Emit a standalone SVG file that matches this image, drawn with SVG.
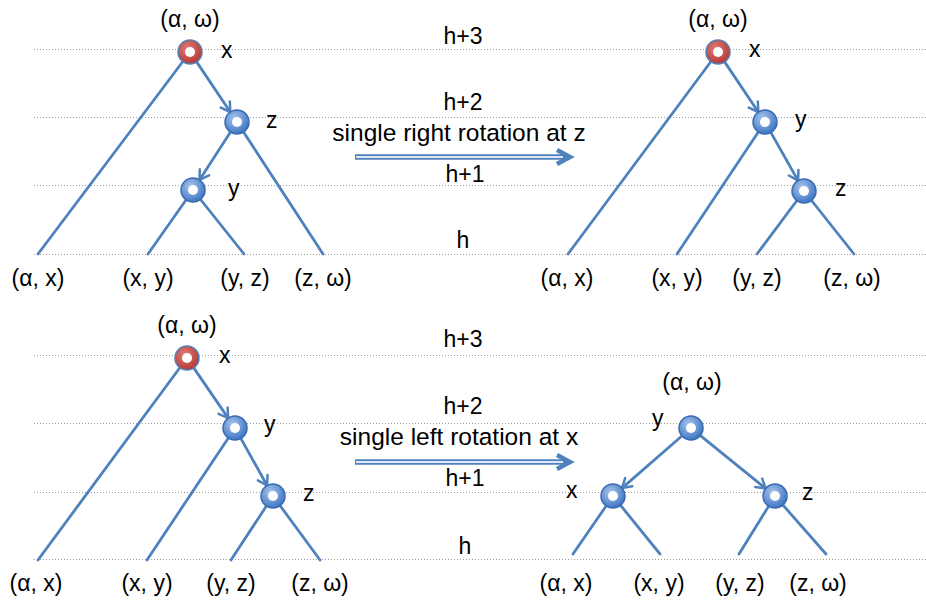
<svg xmlns="http://www.w3.org/2000/svg" width="926" height="601" viewBox="0 0 926 601">
<defs>
<radialGradient id="gb" cx="40%" cy="35%" r="65%">
<stop offset="0" stop-color="#A9C6EC"/>
<stop offset="1" stop-color="#3F76C4"/>
</radialGradient>
<radialGradient id="gr" cx="40%" cy="35%" r="65%">
<stop offset="0" stop-color="#E07A77"/>
<stop offset="1" stop-color="#B53A36"/>
</radialGradient>
<marker id="ah" markerUnits="userSpaceOnUse" markerWidth="14" markerHeight="14" refX="11" refY="7" orient="auto" viewBox="0 0 14 14">
<path d="M2,1.5 L11,7 L2,12.5" fill="none" stroke="#4F81BD" stroke-width="2.5" stroke-linejoin="round" stroke-linecap="round"/>
</marker>
</defs>
<style>
.t{font-family:"Liberation Sans",Arial,sans-serif;font-size:23px;fill:#000}
.m{text-anchor:middle}
.r{font-size:24.5px}
.grid line{stroke:#9a9a9a;stroke-width:1;stroke-dasharray:1,2}
.e line{stroke:#4F81BD;stroke-width:2.8;stroke-linecap:round}
.e line.a{marker-end:url(#ah)}
.nb{fill:url(#gb);stroke:#3A6BB0;stroke-width:1.5}
.nr{fill:url(#gr);stroke:#4F81BD;stroke-width:1.5}
.hole{fill:#fff}
.ba{stroke:#4F81BD;stroke-width:5.5;fill:none}
.bi{stroke:#DCE6F4;stroke-width:1.8;fill:none}
.bh{fill:none;stroke:#4F81BD;stroke-width:4.5;stroke-linejoin:miter}
</style>
<rect width="926" height="601" fill="#fff"/>
<g class="grid">
<line x1="34" y1="49.5" x2="926" y2="49.5"/>
<line x1="34" y1="117.5" x2="926" y2="117.5"/>
<line x1="34" y1="185.5" x2="926" y2="185.5"/>
<line x1="34" y1="254.5" x2="926" y2="254.5"/>
<line x1="34" y1="355.5" x2="926" y2="355.5"/>
<line x1="34" y1="423.5" x2="926" y2="423.5"/>
<line x1="34" y1="492.5" x2="926" y2="492.5"/>
<line x1="34" y1="559.5" x2="926" y2="559.5"/>
</g>
<g id="levels">
<text class="t m" x="463" y="44">h+3</text>
<text class="t m" x="463" y="110">h+2</text>
<text class="t m r" x="459" y="141">single right rotation at z</text>
<text class="t m" x="465" y="182">h+1</text>
<text class="t m" x="463" y="248">h</text>
<text class="t m" x="463" y="347">h+3</text>
<text class="t m" x="463" y="414">h+2</text>
<text class="t m r" x="459" y="445">single left rotation at x</text>
<text class="t m" x="465" y="486">h+1</text>
<text class="t m" x="465" y="554">h</text>
</g>
<g id="rotation-arrows">
<line class="ba" x1="355" y1="157" x2="566" y2="157"/>
<line class="bi" x1="356" y1="157" x2="563" y2="157"/>
<path class="bh" d="M557,150 L570,157 L557,164"/>
<line class="ba" x1="355" y1="462" x2="566" y2="462"/>
<line class="bi" x1="356" y1="462" x2="563" y2="462"/>
<path class="bh" d="M557,455 L570,462 L557,469"/>
</g>
<g id="connectors" class="e">
<line x1="190" y1="52" x2="38" y2="254"/>
<line class="a" x1="196.1" y1="61.1" x2="230.3" y2="112"/>
<line class="a" x1="231" y1="131.2" x2="199.5" y2="179.9"/>
<line x1="237" y1="122" x2="323" y2="254"/>
<line x1="193" y1="190" x2="148" y2="254"/>
<line x1="193" y1="190" x2="244" y2="254"/>
<line x1="718" y1="52" x2="568" y2="254"/>
<line class="a" x1="724.1" y1="61.1" x2="758.3" y2="112"/>
<line x1="765" y1="122" x2="677" y2="254"/>
<line class="a" x1="770.4" y1="131.6" x2="798.1" y2="180.6"/>
<line x1="804" y1="191" x2="757" y2="254"/>
<line x1="804" y1="191" x2="854" y2="254"/>
<line x1="187" y1="358" x2="38" y2="560"/>
<line class="a" x1="193.2" y1="367.1" x2="228.2" y2="418.1"/>
<line x1="235" y1="428" x2="147" y2="560"/>
<line class="a" x1="240.4" y1="437.6" x2="267.1" y2="485.5"/>
<line x1="273" y1="496" x2="231" y2="560"/>
<line x1="273" y1="496" x2="320" y2="560"/>
<line class="a" x1="682.7" y1="435.2" x2="622" y2="488.1"/>
<line class="a" x1="699.5" y1="434.9" x2="765.7" y2="488.5"/>
<line x1="613" y1="496" x2="573" y2="554"/>
<line x1="613" y1="496" x2="660" y2="554"/>
<line x1="775" y1="496" x2="739" y2="554"/>
<line x1="775" y1="496" x2="826" y2="554"/>
</g>
<g id="tl-x"><circle class="nr" cx="190" cy="52" r="12"/><circle class="hole" cx="190" cy="52" r="5"/><text class="t m" x="190" y="27">(α, ω)</text><text class="t" x="221" y="58">x</text></g>
<g id="tl-z"><circle class="nb" cx="237" cy="122" r="12"/><circle class="hole" cx="237" cy="122" r="5"/><text class="t" x="266" y="128">z</text></g>
<g id="tl-y"><circle class="nb" cx="193" cy="190" r="12"/><circle class="hole" cx="193" cy="190" r="5"/><text class="t" x="228" y="196">y</text></g>
<g id="tl-leaves">
<text class="t m" x="38" y="286">(α, x)</text>
<text class="t m" x="148" y="286">(x, y)</text>
<text class="t m" x="245" y="286">(y, z)</text>
<text class="t m" x="323" y="286">(z, ω)</text>
</g>
<g id="tr-x"><circle class="nr" cx="718" cy="52" r="12"/><circle class="hole" cx="718" cy="52" r="5"/><text class="t m" x="718" y="27">(α, ω)</text><text class="t" x="749" y="57">x</text></g>
<g id="tr-y"><circle class="nb" cx="765" cy="122" r="12"/><circle class="hole" cx="765" cy="122" r="5"/><text class="t" x="795" y="127">y</text></g>
<g id="tr-z"><circle class="nb" cx="804" cy="191" r="12"/><circle class="hole" cx="804" cy="191" r="5"/><text class="t" x="835" y="196">z</text></g>
<g id="tr-leaves">
<text class="t m" x="567" y="286">(α, x)</text>
<text class="t m" x="677" y="286">(x, y)</text>
<text class="t m" x="757" y="286">(y, z)</text>
<text class="t m" x="852" y="286">(z, ω)</text>
</g>
<g id="bl-x"><circle class="nr" cx="187" cy="358" r="12"/><circle class="hole" cx="187" cy="358" r="5"/><text class="t m" x="187" y="333">(α, ω)</text><text class="t" x="219" y="363">x</text></g>
<g id="bl-y"><circle class="nb" cx="235" cy="428" r="12"/><circle class="hole" cx="235" cy="428" r="5"/><text class="t" x="264" y="432">y</text></g>
<g id="bl-z"><circle class="nb" cx="273" cy="496" r="12"/><circle class="hole" cx="273" cy="496" r="5"/><text class="t" x="303" y="501">z</text></g>
<g id="bl-leaves">
<text class="t m" x="36" y="591">(α, x)</text>
<text class="t m" x="147" y="591">(x, y)</text>
<text class="t m" x="231" y="591">(y, z)</text>
<text class="t m" x="320" y="591">(z, ω)</text>
</g>
<g id="br-y"><circle class="nb" cx="691" cy="428" r="12"/><circle class="hole" cx="691" cy="428" r="5"/><text class="t m" x="692" y="390">(α, ω)</text><text class="t" x="652" y="426">y</text></g>
<g id="br-x"><circle class="nb" cx="613" cy="496" r="12"/><circle class="hole" cx="613" cy="496" r="5"/><text class="t" x="566" y="498">x</text></g>
<g id="br-z"><circle class="nb" cx="775" cy="496" r="12"/><circle class="hole" cx="775" cy="496" r="5"/><text class="t" x="802" y="500">z</text></g>
<g id="br-leaves">
<text class="t m" x="566" y="591">(α, x)</text>
<text class="t m" x="659" y="591">(x, y)</text>
<text class="t m" x="740" y="591">(y, z)</text>
<text class="t m" x="818" y="591">(z, ω)</text>
</g>
</svg>
